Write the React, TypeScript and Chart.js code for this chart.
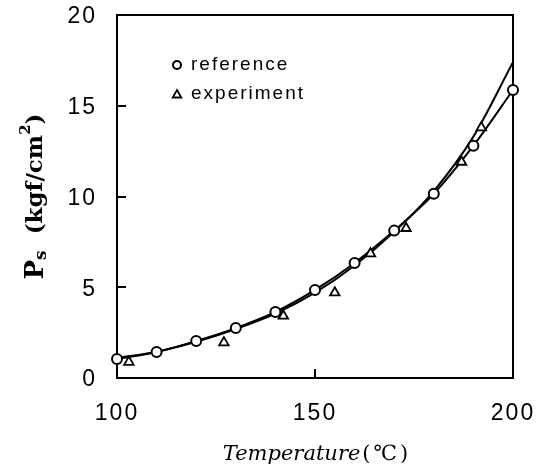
import React, { useEffect, useRef } from 'react';
import { Chart, registerables } from 'chart.js';

Chart.register(...registerables);

// Reference data (circles)
const refTemps = [100, 110, 120, 130, 140, 150, 160, 170, 180, 190, 200];
const refPressures = [1.05, 1.43, 2.04, 2.75, 3.64, 4.85, 6.34, 8.12, 10.15, 12.8, 15.87];
// Experiment data (triangles)
const expTemps = [103, 127, 142, 155, 164, 173, 187, 192];
const expPressures = [0.88, 1.95, 3.42, 4.7, 6.85, 8.25, 11.9, 13.8];
// Fitted experiment curve
const fitTemps = [100, 110, 120, 130, 140, 150, 160, 170, 180, 190, 200];
const fitPressures = [1.1, 1.45, 2.0, 2.7, 3.55, 4.7, 6.2, 8.05, 10.3, 13.3, 17.4];
// Ticks
const xTicks = [100, 150, 200];
const yTicks = [0, 5, 10, 15, 20];
const legendLabels = ['reference', 'experiment'];
const xTitleMain = 'Temperature';
const xTitleUnit = '(℃)';

const SANS = '"Liberation Sans", Arial, sans-serif';
const SERIF = '"DejaVu Serif", serif';

export default function App() {
  const ref = useRef<HTMLCanvasElement>(null);

  useEffect(() => {
    const canvas = ref.current!;

    const drawTriangle = (ctx: CanvasRenderingContext2D, x: number, y: number, r: number) => {
      ctx.beginPath();
      let rad = 0;
      ctx.moveTo(x + Math.sin(rad) * r, y - Math.cos(rad) * r);
      rad += (2 * Math.PI) / 3;
      ctx.lineTo(x + Math.sin(rad) * r, y - Math.cos(rad) * r);
      rad += (2 * Math.PI) / 3;
      ctx.lineTo(x + Math.sin(rad) * r, y - Math.cos(rad) * r);
      ctx.closePath();
      ctx.stroke();
    };

    const decor = {
      id: 'decor',
      beforeDraw(chart: any) {
        chart.ctx.letterSpacing = '2px';
      },
      beforeDatasetsDraw(chart: any) {
        const ctx: CanvasRenderingContext2D = chart.ctx;
        const a = chart.chartArea;
        const xs = chart.scales.x;
        const ys = chart.scales.y;
        ctx.save();
        ctx.strokeStyle = '#000';
        ctx.lineWidth = 2;
        ctx.strokeRect(a.left, a.top, a.right - a.left, a.bottom - a.top);
        ctx.beginPath();
        yTicks.forEach((v) => {
          if (v > ys.min && v < ys.max) {
            const py = Math.round(ys.getPixelForValue(v));
            ctx.moveTo(a.left, py);
            ctx.lineTo(a.left + 9, py);
          }
        });
        xTicks.forEach((v) => {
          if (v > xs.min && v < xs.max) {
            const px = Math.round(xs.getPixelForValue(v));
            ctx.moveTo(px, a.bottom);
            ctx.lineTo(px, a.bottom - 9);
          }
        });
        ctx.stroke();
        ctx.restore();
      },
      afterDraw(chart: any) {
        const ctx: CanvasRenderingContext2D = chart.ctx;
        const a = chart.chartArea;
        ctx.save();
        ctx.fillStyle = '#000';
        ctx.strokeStyle = '#000';

        // Legend
        (ctx as any).letterSpacing = '2px';
        ctx.font = `19px ${SANS}`;
        ctx.textBaseline = 'middle';
        ctx.textAlign = 'left';
        ctx.lineWidth = 2;
        ctx.beginPath();
        ctx.arc(177, 65, 4, 0, Math.PI * 2);
        ctx.stroke();
        ctx.fillText(legendLabels[0], 191, 65);
        ctx.lineWidth = 1.8;
        drawTriangle(ctx, 177, 95, 5);
        ctx.fillText(legendLabels[1], 191, 94);

        // X title
        (ctx as any).letterSpacing = '0px';
        ctx.font = `italic 21px ${SERIF}`;
        const w1 = ctx.measureText(xTitleMain).width;
        ctx.font = `21px ${SERIF}`;
        (ctx as any).letterSpacing = '3px';
        const w2 = ctx.measureText(xTitleUnit).width;
        const cx = (a.left + a.right) / 2 + 2;
        const startX = cx - (w1 + w2 + 2) / 2;
        const ty = 455;
        (ctx as any).letterSpacing = '0px';
        ctx.font = `italic 21px ${SERIF}`;
        ctx.fillText(xTitleMain, startX, ty);
        (ctx as any).letterSpacing = '3px';
        ctx.font = `21px ${SERIF}`;
        ctx.fillText(xTitleUnit, startX + w1 + 2, ty);

        // Y title (rotated)
        (ctx as any).letterSpacing = '0px';
        const parts: [string, string, number][] = [
          ['P', `bold 26px ${SERIF}`, 0],
          ['s', `bold 17px ${SERIF}`, 6],
          ['  (kgf/cm', `bold 23px ${SERIF}`, 0],
          ['2', `bold 15px ${SERIF}`, -10],
          [')', `bold 23px ${SERIF}`, 0],
        ];
        let total = 0;
        const widths = parts.map(([t, f]) => {
          ctx.font = f;
          const w = ctx.measureText(t).width;
          total += w;
          return w;
        });
        ctx.translate(36, (a.top + a.bottom) / 2);
        ctx.rotate(-Math.PI / 2);
        let px = -total / 2;
        parts.forEach(([t, f, dy], i) => {
          ctx.font = f;
          ctx.fillText(t, px, dy);
          px += widths[i];
        });
        ctx.restore();
      },
    };

    const chart = new Chart(canvas, {
      type: 'line',
      data: {
        datasets: [
          {
            label: 'fit',
            data: fitTemps.map((t, i) => ({ x: t, y: fitPressures[i] })),
            borderColor: '#000',
            borderWidth: 2,
            pointRadius: 0,
            cubicInterpolationMode: 'monotone',
            showLine: true,
            order: 3,
          },
          {
            label: legendLabels[0],
            data: refTemps.map((t, i) => ({ x: t, y: refPressures[i] })),
            borderColor: '#000',
            borderWidth: 2,
            pointStyle: 'circle',
            pointRadius: 5,
            pointBorderWidth: 2,
            pointBackgroundColor: '#fff',
            pointBorderColor: '#000',
            cubicInterpolationMode: 'monotone',
            showLine: true,
            clip: false,
            order: 2,
          },
          {
            label: legendLabels[1],
            data: expTemps.map((t, i) => ({ x: t, y: expPressures[i] })),
            borderColor: '#000',
            showLine: false,
            pointStyle: 'triangle',
            pointRadius: 5.5,
            pointBorderWidth: 1.8,
            pointBackgroundColor: '#fff',
            pointBorderColor: '#000',
            clip: false,
            order: 1,
          },
        ] as any,
      },
      options: {
        responsive: false,
        animation: false,
        layout: { padding: { left: 0, top: 15, right: 36, bottom: 0 } },
        plugins: { legend: { display: false }, tooltip: { enabled: false } },
        scales: {
          x: {
            type: 'linear',
            min: 100,
            max: 200,
            grid: { display: false, drawTicks: false },
            border: { display: false },
            afterBuildTicks: (s: any) => {
              s.ticks = xTicks.map((v) => ({ value: v }));
            },
            afterFit: (s: any) => {
              s.height = 95;
              s.paddingLeft = 0;
              s.paddingRight = 0;
              s.paddingTop = 0;
              s.paddingBottom = 0;
            },
            ticks: {
              color: '#000',
              padding: 22,
              maxRotation: 0,
              font: { family: SANS, size: 23 },
            },
          },
          y: {
            type: 'linear',
            min: 0,
            max: 20,
            grid: { display: false, drawTicks: false },
            border: { display: false },
            afterBuildTicks: (s: any) => {
              s.ticks = yTicks.map((v) => ({ value: v }));
            },
            afterFit: (s: any) => {
              s.width = 117;
              s.paddingLeft = 0;
              s.paddingRight = 0;
              s.paddingTop = 0;
              s.paddingBottom = 0;
            },
            ticks: {
              color: '#000',
              padding: 20,
              labelOffset: 2,
              font: { family: SANS, size: 23 },
            },
          },
        },
      } as any,
      plugins: [decor],
    });

    return () => chart.destroy();
  }, []);

  return (
    <canvas
      ref={ref}
      width={549}
      height={473}
      style={{ position: 'absolute', left: 0, top: 0, display: 'block', background: '#fff' }}
    />
  );
}
